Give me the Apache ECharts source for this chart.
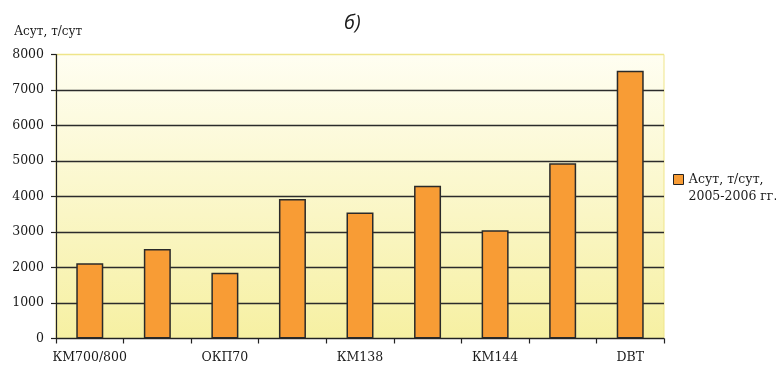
<!DOCTYPE html>
<html>
<head>
<meta charset="utf-8">
<script src="https://cdn.jsdelivr.net/npm/echarts@6/dist/echarts.min.js"></script>
<style>
  html, body { margin: 0; padding: 0; background: #ffffff; }
  #chart { width: 776px; height: 366px; }
</style>
</head>
<body>
<div id="chart"></div>
<script>
// Installations (only every other one is labelled on the axis)
const categories = ['КМ700/800', '', 'ОКП70', '', 'КМ138', '', 'КМ144', '', 'DBT'];
// Асут, т/сут for 2005-2006
const asutValues = [2120, 2520, 1850, 3930, 3550, 4300, 3050, 4940, 7540];
const seriesName = 'Асут, т/сут,\n2005-2006 гг.';
const yTicks = { min: 0, max: 8000, step: 1000 };

const serif = '"DejaVu Serif", "Liberation Serif", serif';
const gridLineColors = [];
for (let v = yTicks.min; v <= yTicks.max; v += yTicks.step) {
  gridLineColors.push(v === yTicks.max ? '#efe58a' : '#2b2b2b');
}

const chart = echarts.init(document.getElementById('chart'), null, { renderer: 'canvas' });
chart.setOption({
  animation: false,
  backgroundColor: '#ffffff',
  title: [
    {
      text: 'б)',
      left: 339, top: 8,
      textStyle: { fontFamily: '"Open Sans", sans-serif', fontStyle: 'italic', fontWeight: 'normal', fontSize: 20, color: '#1a1a1a' }
    },
    {
      text: 'Асут, т/сут',
      left: 9, top: 21,
      textStyle: { fontFamily: serif, fontWeight: 'normal', fontSize: 12, color: '#1a1a1a' }
    }
  ],
  legend: {
    left: 673, top: 154,
    padding: 0,
    orient: 'vertical',
    icon: 'rect',
    itemWidth: 10, itemHeight: 10,
    itemStyle: { borderColor: '#222', borderWidth: 1 },
    // leading blank line puts the first text line level with the swatch
    formatter: name => '\n' + name,
    textStyle: { fontFamily: serif, fontSize: 12.5, color: '#1a1a1a', lineHeight: 17 },
    data: [seriesName]
  },
  grid: {
    left: 56, right: 112, top: 54.5, bottom: 27.5,
    show: true,
    borderColor: '#efe58a', borderWidth: 1,
    backgroundColor: new echarts.graphic.LinearGradient(0, 0, 0, 1, [
      { offset: 0, color: '#fffef2' },
      { offset: 1, color: '#f6f0a2' }
    ])
  },
  xAxis: {
    type: 'category',
    data: categories,
    boundaryGap: true,
    axisLine: { lineStyle: { color: '#222', width: 1.2 } },
    axisTick: { show: true, alignWithLabel: false, interval: 0, length: 5, lineStyle: { color: '#222', width: 1.2 } },
    axisLabel: { interval: 0, fontFamily: serif, fontSize: 12.5, color: '#1a1a1a', margin: 13 }
  },
  yAxis: {
    type: 'value',
    min: yTicks.min, max: yTicks.max, interval: yTicks.step,
    axisLine: { show: true, lineStyle: { color: '#222', width: 1.2 } },
    axisTick: { show: true, length: 5, lineStyle: { color: '#222', width: 1.2 } },
    axisLabel: { fontFamily: serif, fontSize: 12.5, color: '#1a1a1a', margin: 12, formatter: v => String(v) },
    splitLine: { show: true, lineStyle: { color: gridLineColors, width: 1.3 } }
  },
  series: [{
    name: seriesName,
    type: 'bar',
    data: asutValues,
    barWidth: 27,
    itemStyle: { color: '#f89c35', borderColor: '#2a2a2a', borderWidth: 1.5 }
  }]
});
</script>
</body>
</html>
